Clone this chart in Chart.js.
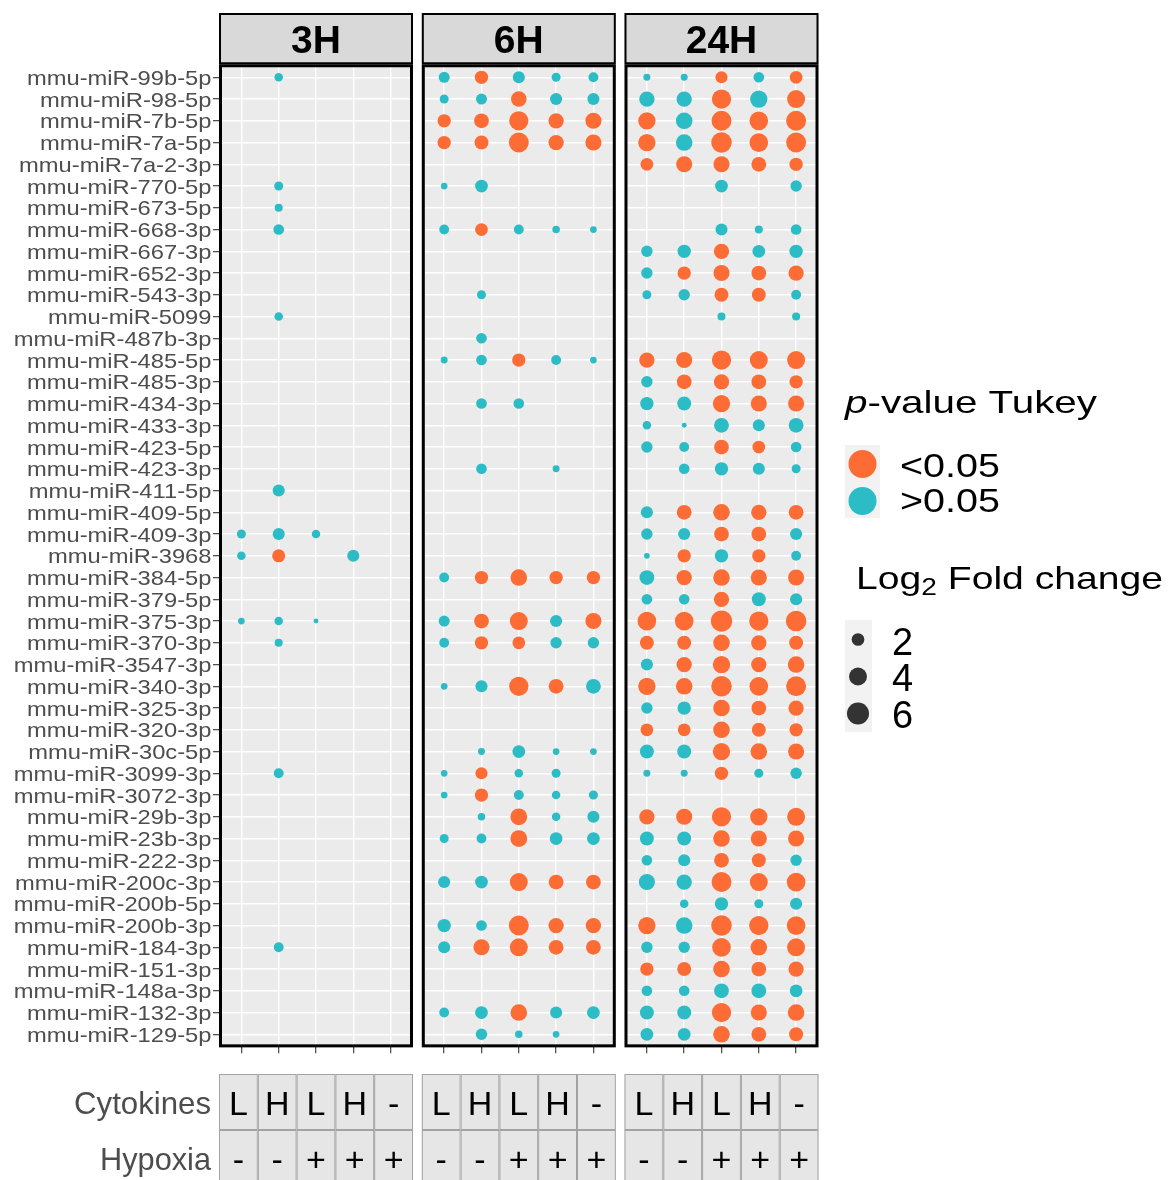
<!DOCTYPE html>
<html>
<head>
<meta charset="utf-8">
<script src="https://cdn.jsdelivr.net/npm/chart.js@4.4.1/dist/chart.umd.min.js"></script>
<style>
  body { margin: 0; background: #fff; }
  #wrap { position: relative; width: 1168px; height: 1180px; overflow: hidden; }
  #wrap canvas { position: absolute; left: 0; top: 0; }
</style>
</head>
<body>
<div id="wrap">
  <canvas id="c3H" width="1168" height="1180"></canvas>
  <canvas id="c6H" width="1168" height="1180"></canvas>
  <canvas id="c24H" width="1168" height="1180"></canvas>
</div>
<script>
// ---------- data ----------
const _ = null;

const mirnas = [
  'mmu-miR-99b-5p', 'mmu-miR-98-5p', 'mmu-miR-7b-5p', 'mmu-miR-7a-5p', 'mmu-miR-7a-2-3p',
  'mmu-miR-770-5p', 'mmu-miR-673-5p', 'mmu-miR-668-3p', 'mmu-miR-667-3p', 'mmu-miR-652-3p',
  'mmu-miR-543-3p', 'mmu-miR-5099', 'mmu-miR-487b-3p', 'mmu-miR-485-5p', 'mmu-miR-485-3p',
  'mmu-miR-434-3p', 'mmu-miR-433-3p', 'mmu-miR-423-5p', 'mmu-miR-423-3p', 'mmu-miR-411-5p',
  'mmu-miR-409-5p', 'mmu-miR-409-3p', 'mmu-miR-3968', 'mmu-miR-384-5p', 'mmu-miR-379-5p',
  'mmu-miR-375-3p', 'mmu-miR-370-3p', 'mmu-miR-3547-3p', 'mmu-miR-340-3p', 'mmu-miR-325-3p',
  'mmu-miR-320-3p', 'mmu-miR-30c-5p', 'mmu-miR-3099-3p', 'mmu-miR-3072-3p', 'mmu-miR-29b-3p',
  'mmu-miR-23b-3p', 'mmu-miR-222-3p', 'mmu-miR-200c-3p', 'mmu-miR-200b-5p', 'mmu-miR-200b-3p',
  'mmu-miR-184-3p', 'mmu-miR-151-3p', 'mmu-miR-148a-3p', 'mmu-miR-132-3p', 'mmu-miR-129-5p'
];

const cytokines = ['L', 'H', 'L', 'H', '-'];
const hypoxia   = ['-', '-', '+', '+', '+'];
const timepoints = ['3H', '6H', '24H'];
const sizeBreaks = [2, 4, 6];

// Log2 fold change per miRNA (rows) and condition (columns); null = not detected
const fc3H = [
  [_, 0.9, _, _, _],      // 99b-5p
  [_, _, _, _, _],        // 98-5p
  [_, _, _, _, _],        // 7b-5p
  [_, _, _, _, _],        // 7a-5p
  [_, _, _, _, _],        // 7a-2-3p
  [_, 1.0, _, _, _],      // 770-5p
  [_, 0.8, _, _, _],      // 673-5p
  [_, 1.4, _, _, _],      // 668-3p
  [_, _, _, _, _],        // 667-3p
  [_, _, _, _, _],        // 652-3p
  [_, _, _, _, _],        // 543-3p
  [_, 0.9, _, _, _],      // 5099
  [_, _, _, _, _],        // 487b-3p
  [_, _, _, _, _],        // 485-5p
  [_, _, _, _, _],        // 485-3p
  [_, _, _, _, _],        // 434-3p
  [_, _, _, _, _],        // 433-3p
  [_, _, _, _, _],        // 423-5p
  [_, _, _, _, _],        // 423-3p
  [_, 1.8, _, _, _],      // 411-5p
  [_, _, _, _, _],        // 409-5p
  [1.0, 1.8, 0.9, _, _],  // 409-3p
  [0.9, 2.1, _, 1.8, _],  // 3968
  [_, _, _, _, _],        // 384-5p
  [_, _, _, _, _],        // 379-5p
  [0.55, 0.9, 0.3, _, _], // 375-3p
  [_, 0.8, _, _, _],      // 370-3p
  [_, _, _, _, _],        // 3547-3p
  [_, _, _, _, _],        // 340-3p
  [_, _, _, _, _],        // 325-3p
  [_, _, _, _, _],        // 320-3p
  [_, _, _, _, _],        // 30c-5p
  [_, 1.2, _, _, _],      // 3099-3p
  [_, _, _, _, _],        // 3072-3p
  [_, _, _, _, _],        // 29b-3p
  [_, _, _, _, _],        // 23b-3p
  [_, _, _, _, _],        // 222-3p
  [_, _, _, _, _],        // 200c-3p
  [_, _, _, _, _],        // 200b-5p
  [_, _, _, _, _],        // 200b-3p
  [_, 1.2, _, _, _],      // 184-3p
  [_, _, _, _, _],        // 151-3p
  [_, _, _, _, _],        // 148a-3p
  [_, _, _, _, _],        // 132-3p
  [_, _, _, _, _]         // 129-5p
];

// Tukey p-value class per cell: 'o' = <0.05, 'b' = >0.05, '.' = no point
const sig3H = [
  '.b...', '.....', '.....', '.....', '.....',
  '.b...', '.b...', '.b...', '.....', '.....',
  '.....', '.b...', '.....', '.....', '.....',
  '.....', '.....', '.....', '.....', '.b...',
  '.....', 'bbb..', 'bo.b.', '.....', '.....',
  'bbb..', '.b...', '.....', '.....', '.....',
  '.....', '.....', '.b...', '.....', '.....',
  '.....', '.....', '.....', '.....', '.....',
  '.b...', '.....', '.....', '.....', '.....'
];

const fc6H = [
  [1.5, 2.2, 1.8, 1.0, 1.2],  // 99b-5p
  [1.0, 1.5, 3.0, 1.8, 1.8],  // 98-5p
  [2.2, 2.7, 4.6, 2.9, 3.2],  // 7b-5p
  [2.2, 2.4, 4.9, 2.9, 3.2],  // 7a-5p
  [_, _, _, _, _],            // 7a-2-3p
  [0.55, 2.0, _, _, _],       // 770-5p
  [_, _, _, _, _],            // 673-5p
  [1.2, 2.0, 1.2, 0.7, 0.55], // 668-3p
  [_, _, _, _, _],            // 667-3p
  [_, _, _, _, _],            // 652-3p
  [_, 1.0, _, _, _],          // 543-3p
  [_, _, _, _, _],            // 5099
  [_, 1.4, _, _, _],          // 487b-3p
  [0.6, 1.4, 2.2, 1.2, 0.55], // 485-5p
  [_, _, _, _, _],            // 485-3p
  [_, 1.4, 1.4, _, _],        // 434-3p
  [_, _, _, _, _],            // 433-3p
  [_, _, _, _, _],            // 423-5p
  [_, 1.4, _, 0.6, _],        // 423-3p
  [_, _, _, _, _],            // 411-5p
  [_, _, _, _, _],            // 409-5p
  [_, _, _, _, _],            // 409-3p
  [_, _, _, _, _],            // 3968
  [1.2, 2.2, 3.4, 2.2, 2.2],  // 384-5p
  [_, _, _, _, _],            // 379-5p
  [1.5, 2.7, 4.0, 1.8, 3.2],  // 375-3p
  [1.2, 2.2, 2.0, 1.6, 1.6],  // 370-3p
  [_, _, _, _, _],            // 3547-3p
  [0.55, 1.8, 4.6, 2.7, 2.7], // 340-3p
  [_, _, _, _, _],            // 325-3p
  [_, _, _, _, _],            // 320-3p
  [_, 0.6, 2.0, 0.55, 0.55],  // 30c-5p
  [0.55, 1.8, 0.9, 1.0, _],   // 3099-3p
  [0.55, 2.2, 1.2, 0.9, 1.0], // 3072-3p
  [_, 0.7, 3.5, 0.9, 1.8],    // 29b-3p
  [1.0, 1.2, 3.5, 2.0, 2.0],  // 23b-3p
  [_, _, _, _, _],            // 222-3p
  [1.8, 2.0, 4.0, 2.7, 2.7],  // 200c-3p
  [_, _, _, _, _],            // 200b-5p
  [2.2, 1.4, 4.9, 2.9, 2.9],  // 200b-3p
  [1.8, 3.2, 4.0, 2.7, 2.7],  // 184-3p
  [_, _, _, _, _],            // 151-3p
  [_, _, _, _, _],            // 148a-3p
  [1.2, 2.0, 3.4, 1.8, 2.0],  // 132-3p
  [_, 1.6, 0.7, 0.55, _]      // 129-5p
];

const sig6H = [
  'bobbb', 'bbobb', 'ooooo', 'ooooo', '.....',
  'bb...', '.....', 'bobbb', '.....', '.....',
  '.b...', '.....', '.b...', 'bbobb', '.....',
  '.bb..', '.....', '.....', '.b.b.', '.....',
  '.....', '.....', '.....', 'boooo', '.....',
  'boobo', 'boobb', '.....', 'bboob', '.....',
  '.....', '.bbbb', 'bobb.', 'bobbb', '.bobb',
  'bbobb', '.....', 'bbooo', '.....', 'bbooo',
  'boooo', '.....', '.....', 'bbobb', '.bbb.'
];

const fc24H = [
  [0.6, 0.6, 1.8, 1.4, 2.0],  // 99b-5p
  [2.9, 2.9, 4.6, 3.7, 4.0],  // 98-5p
  [3.7, 3.4, 4.9, 4.3, 4.9],  // 7b-5p
  [3.7, 3.4, 5.2, 4.3, 4.9],  // 7a-5p
  [2.0, 3.2, 3.2, 2.7, 2.2],  // 7a-2-3p
  [_, _, 2.0, _, 1.6],        // 770-5p
  [_, _, _, _, _],            // 673-5p
  [_, _, 1.8, 0.8, 1.4],      // 668-3p
  [1.6, 2.2, 2.9, 2.0, 2.2],  // 667-3p
  [1.6, 2.2, 3.2, 2.7, 2.9],  // 652-3p
  [1.0, 1.6, 2.4, 2.4, 1.2],  // 543-3p
  [_, _, 0.8, _, 0.8],        // 5099
  [_, _, _, _, _],            // 487b-3p
  [2.9, 3.2, 4.6, 4.0, 4.0],  // 485-5p
  [1.6, 2.7, 2.9, 2.7, 2.2],  // 485-3p
  [2.2, 2.4, 3.7, 3.2, 3.2],  // 434-3p
  [0.9, 0.3, 2.7, 1.8, 2.7],  // 433-3p
  [1.6, 1.2, 2.7, 2.0, 1.4],  // 423-5p
  [_, 1.4, 2.2, 1.8, 1.0],    // 423-3p
  [_, _, _, _, _],            // 411-5p
  [1.8, 2.7, 3.4, 2.9, 2.7],  // 409-5p
  [1.6, 1.8, 2.7, 2.7, 1.8],  // 409-3p
  [0.4, 2.2, 2.2, 2.2, 1.2],  // 3968
  [2.7, 2.9, 3.4, 3.2, 3.2],  // 384-5p
  [1.4, 1.4, 2.9, 2.4, 1.8],  // 379-5p
  [4.3, 4.3, 5.6, 4.6, 5.2],  // 375-3p
  [2.4, 2.4, 3.4, 2.9, 2.4],  // 370-3p
  [1.8, 2.9, 3.7, 2.9, 3.4],  // 3547-3p
  [3.7, 3.4, 5.2, 4.3, 4.9],  // 340-3p
  [1.6, 2.2, 3.4, 2.7, 2.9],  // 325-3p
  [2.0, 2.0, 3.4, 2.4, 2.2],  // 320-3p
  [2.4, 2.4, 3.7, 3.4, 3.2],  // 30c-5p
  [0.6, 0.6, 2.2, 1.0, 1.6],  // 3099-3p
  [_, _, _, _, _],            // 3072-3p
  [2.9, 3.2, 4.6, 3.7, 4.0],  // 29b-3p
  [2.4, 2.4, 3.4, 3.2, 3.2],  // 23b-3p
  [1.4, 1.8, 2.7, 2.4, 1.6],  // 222-3p
  [3.2, 2.9, 4.9, 4.0, 4.3],  // 200c-3p
  [_, 0.9, 2.2, 1.0, 1.8],    // 200b-5p
  [3.7, 3.4, 5.2, 4.6, 4.3],  // 200b-3p
  [1.6, 1.6, 4.3, 3.4, 4.0],  // 184-3p
  [2.2, 2.4, 3.4, 2.7, 2.9],  // 151-3p
  [1.4, 1.4, 2.7, 2.7, 2.0],  // 148a-3p
  [2.4, 2.4, 4.6, 3.2, 3.4],  // 132-3p
  [2.0, 2.0, 3.4, 2.7, 2.4]   // 129-5p
];

const sig24H = [
  'bbobo', 'bbobo', 'obooo', 'obooo', 'ooooo',
  '..b.b', '.....', '..bbb', 'bbobb', 'boooo',
  'bboob', '..b.b', '.....', 'ooooo', 'boooo',
  'bbooo', 'bbbbb', 'bboob', '.bbbb', '.....',
  'boooo', 'bboob', 'bobob', 'boooo', 'bbobb',
  'ooooo', 'ooooo', 'boooo', 'ooooo', 'bbooo',
  'ooooo', 'bbooo', 'bbobb', '.....', 'ooooo',
  'bbooo', 'bboob', 'bbooo', '.bbbb', 'obooo',
  'bbooo', 'ooooo', 'bbbbb', 'bbooo', 'bbooo'
];

const panelFc  = [fc3H, fc6H, fc24H];
const panelSig = [sig3H, sig6H, sig24H];

// ---------- styling ----------
const FONT = "'Liberation Sans', Arial, sans-serif";
const ORANGE = '#fd6c34';
const CYAN = '#2bbcc5';
const PANEL_LEFT = [219, 421.8, 624.5];
const PANEL_W = 194;
const PANEL_TOP = 64.25;
const PANEL_BOTTOM = 1047.35;

// point radius in px from log2 fold change (area proportional)
const sizeOf = v => 4.5 * Math.sqrt(v);

// draws a run of text pieces, optionally stretched to a given width
function drawText(ctx, parts, x, y, opt) {
  ctx.save();
  ctx.fillStyle = opt.color || '#000';
  ctx.textBaseline = 'alphabetic';
  ctx.textAlign = 'left';
  let w = 0;
  parts.forEach(p => { ctx.font = p.font; p.w = ctx.measureText(p.t).width; w += p.w; });
  const sx = opt.width ? opt.width / w : (opt.sx || 1);
  const total = w * sx;
  const x0 = opt.align === 'right' ? x - total : opt.align === 'center' ? x - total / 2 : x;
  ctx.translate(x0, y);
  ctx.scale(sx, 1);
  let cx = 0;
  parts.forEach(p => { ctx.font = p.font; ctx.fillText(p.t, cx, p.dy || 0); cx += p.w; });
  ctx.restore();
}

const facetPlugin = {
  id: 'facet',
  beforeDraw(chart) {
    const { ctx, chartArea: a } = chart;
    ctx.save();
    ctx.fillStyle = '#ebebeb';
    ctx.fillRect(a.left, a.top, a.width, a.height);
    ctx.restore();
  },
  afterDraw(chart, args, opts) {
    const { ctx, chartArea: a, scales: { y } } = chart;
    ctx.save();

    // strip header
    ctx.fillStyle = '#d9d9d9';
    ctx.fillRect(a.left, 13, a.width, a.top - 13);
    ctx.strokeStyle = '#000';
    ctx.lineWidth = 2;
    ctx.strokeRect(a.left + 1, 14, a.width - 2, a.top - 15);
    drawText(ctx, [{ t: opts.title, font: 'bold 39px ' + FONT }], (a.left + a.right) / 2, 53, { align: 'center' });

    // panel border
    ctx.lineWidth = 3;
    ctx.strokeRect(a.left + 1.5, a.top + 1.5, a.width - 3, a.height - 3);

    // condition table under the panel
    const cw = a.width / cytokines.length;
    const rowsY = [1074, 1130, 1186];
    [cytokines, hypoxia].forEach((vals, r) => {
      vals.forEach((v, j) => {
        const x0 = a.left + j * cw;
        ctx.fillStyle = '#e6e6e6';
        ctx.fillRect(x0, rowsY[r], cw, rowsY[r + 1] - rowsY[r]);
        ctx.strokeStyle = '#a3a3a3';
        ctx.lineWidth = 1;
        ctx.strokeRect(x0 + 0.5, rowsY[r] + 0.5, cw - 1, rowsY[r + 1] - rowsY[r] - 1);
        drawText(ctx, [{ t: v, font: '34px ' + FONT }], x0 + cw / 2, r === 0 ? 1115 : 1171, { align: 'center' });
      });
    });

    if (opts.labels) {
      mirnas.forEach((name, i) => {
        drawText(ctx, [{ t: name, font: '21px ' + FONT }], a.left - 7.5, y.getPixelForValue(i + 1) + 7.5,
          { align: 'right', color: '#4d4d4d', sx: 1.13 });
      });
      drawText(ctx, [{ t: 'Cytokines', font: '32px ' + FONT }], 211, 1114, { align: 'right', color: '#4d4d4d', width: 137 });
      drawText(ctx, [{ t: 'Hypoxia', font: '32px ' + FONT }], 211, 1170, { align: 'right', color: '#4d4d4d', width: 111 });
    }

    if (opts.legend) {
      // p-value colour legend
      drawText(ctx, [{ t: 'p', font: 'italic 32px ' + FONT }, { t: '-value Tukey', font: '32px ' + FONT }],
        845, 413, { width: 252 });
      ctx.fillStyle = '#f2f2f2';
      ctx.fillRect(845, 445, 35, 73);
      [[ORANGE, '<0.05', 464, 477], [CYAN, '>0.05', 501, 512]].forEach(([col, lab, cy, by]) => {
        ctx.fillStyle = col;
        ctx.beginPath();
        ctx.arc(862.5, cy, 14, 0, Math.PI * 2);
        ctx.fill();
        drawText(ctx, [{ t: lab, font: '34px ' + FONT }], 900, by, { width: 100 });
      });

      // fold change size legend
      drawText(ctx, [
        { t: 'Log', font: '32px ' + FONT },
        { t: '2', font: '23px ' + FONT, dy: 6 },
        { t: ' Fold change', font: '32px ' + FONT }
      ], 856, 589, { width: 307 });
      ctx.fillStyle = '#f2f2f2';
      ctx.fillRect(845, 620, 27, 112);
      const keyY = [639.5, 676.5, 713.5];
      const textY = [654.5, 691, 727.5];
      sizeBreaks.forEach((b, i) => {
        ctx.fillStyle = '#333333';
        ctx.beginPath();
        ctx.arc(858, keyY[i], sizeOf(b), 0, Math.PI * 2);
        ctx.fill();
        drawText(ctx, [{ t: String(b), font: '38px ' + FONT }], 892, textY[i], {});
      });
    }
    ctx.restore();
  }
};

function buildDatasets(fc, sig) {
  const groups = [
    { key: 'o', label: '<0.05', color: ORANGE },
    { key: 'b', label: '>0.05', color: CYAN }
  ];
  return groups.map(g => {
    const data = [];
    fc.forEach((row, i) => row.forEach((v, j) => {
      if (v !== null && sig[i][j] === g.key) data.push({ x: j + 1, y: i + 1, r: sizeOf(v) });
    }));
    return { label: g.label, data, backgroundColor: g.color, borderWidth: 0, hoverRadius: 0 };
  });
}

timepoints.forEach((tp, k) => {
  const first = k === 0;
  new Chart(document.getElementById('c' + tp), {
    type: 'bubble',
    data: { datasets: buildDatasets(panelFc[k], panelSig[k]) },
    options: {
      responsive: false,
      animation: false,
      devicePixelRatio: 1,
      events: [],
      layout: {
        autoPadding: false,
        padding: {
          left: PANEL_LEFT[k] - (first ? 6 : 0),
          right: 1168 - PANEL_LEFT[k] - PANEL_W,
          top: PANEL_TOP,
          bottom: 1180 - PANEL_BOTTOM - 6
        }
      },
      plugins: {
        legend: { display: false },
        tooltip: { enabled: false },
        facet: { title: tp, labels: first, legend: k === timepoints.length - 1 }
      },
      scales: {
        x: {
          type: 'linear',
          min: 0.4,
          max: cytokines.length + 0.6,
          afterBuildTicks: s => { s.ticks = cytokines.map((c, j) => ({ value: j + 1 })); },
          ticks: { display: false },
          border: { display: false },
          grid: { color: '#ffffff', lineWidth: 1.4, tickLength: 6, tickColor: '#333333', tickWidth: 1.1 }
        },
        y: {
          type: 'linear',
          reverse: true,
          min: 0.4,
          max: mirnas.length + 0.6,
          afterBuildTicks: s => { s.ticks = mirnas.map((m, i) => ({ value: i + 1 })); },
          ticks: { display: false },
          border: { display: false },
          grid: { color: '#ffffff', lineWidth: 1.4, drawTicks: first, tickLength: 6, tickColor: '#333333', tickWidth: 1.1 }
        }
      }
    },
    plugins: [facetPlugin]
  });
});
</script>
</body>
</html>
